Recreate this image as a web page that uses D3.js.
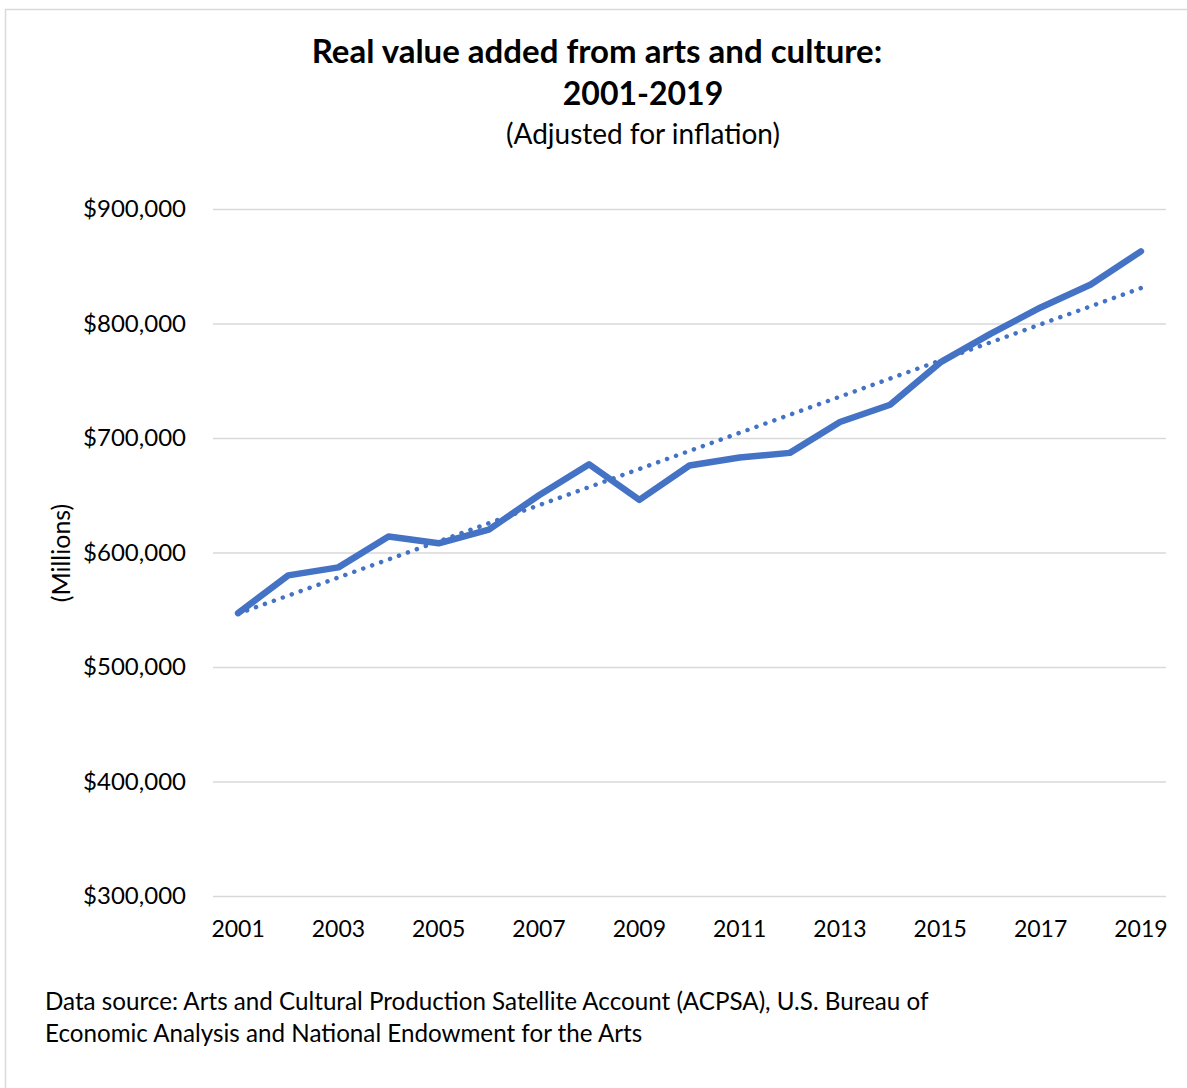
<!DOCTYPE html>
<html>
<head>
<meta charset="utf-8">
<script src="https://cdn.jsdelivr.net/npm/d3@7"></script>
<style>
  body { margin: 0; background: #fff; }
  text { font-family: Lato, "Open Sans", sans-serif; fill: #000; }
</style>
</head>
<body>
<script>
// real value added, millions of dollars
var years = ["2001", "2002", "2003", "2004", "2005", "2006", "2007", "2008", "2009", "2010",
             "2011", "2012", "2013", "2014", "2015", "2016", "2017", "2018", "2019"];
var values = [547000, 580000, 587000, 614000, 608000, 620000, 650000, 677000, 646000, 676000,
              683000, 687000, 714000, 729000, 766000, 791000, 814000, 834000, 863000];
var yTicks = [300000, 400000, 500000, 600000, 700000, 800000, 900000];
var xTickLabels = ["2001", "2003", "2005", "2007", "2009", "2011", "2013", "2015", "2017", "2019"];

var width = 1187, height = 1088;
var plot = { left: 213, right: 1166, top: 209, bottom: 896 };
var blue = "#4472c4";

var svg = d3.select("body").append("svg")
  .attr("width", width)
  .attr("height", height);

// chart frame
svg.append("rect")
  .attr("x", 5.5).attr("y", 9.5)
  .attr("width", width + 20).attr("height", height + 20)
  .attr("fill", "#fff")
  .attr("stroke", "#d9d9d9")
  .attr("stroke-width", 1.5);

var xScale = d3.scaleBand()
  .domain(years)
  .range([plot.left, plot.right]);

var yScale = d3.scaleLinear()
  .domain([300000, 900000])
  .range([plot.bottom, plot.top]);

var xc = function(d) { return xScale(d) + xScale.bandwidth() / 2; };
var money = function(d) { return "$" + d3.format(",")(d); };

// gridlines + y labels
var yAxis = d3.axisLeft(yScale)
  .tickValues(yTicks)
  .tickFormat(money)
  .tickSize(-(plot.right - plot.left))
  .tickPadding(27);
var yNodes = svg.append("g")
  .attr("transform", "translate(" + plot.left + ",0)")
  .call(yAxis);
yNodes.select(".domain").remove();
yNodes.selectAll(".tick line").attr("stroke", "#d9d9d9").attr("stroke-width", 1.5);
yNodes.selectAll(".tick text")
  .attr("font-size", 24)
  .attr("font-family", "Lato, sans-serif")
  .attr("fill", "#000");

// x labels
var xAxis = d3.axisBottom(xScale)
  .tickValues(xTickLabels)
  .tickSize(0)
  .tickPadding(25);
var xNodes = svg.append("g")
  .attr("transform", "translate(0," + plot.bottom + ")")
  .call(xAxis);
xNodes.select(".domain").remove();
xNodes.selectAll(".tick text")
  .attr("font-size", 23)
  .attr("font-family", "Lato, sans-serif")
  .attr("fill", "#000");

// linear trendline (least squares on the series)
var xs = years.map(function(d, i) { return i; });
var mx = d3.mean(xs), my = d3.mean(values);
var slope = d3.sum(xs, function(x, i) { return (x - mx) * (values[i] - my); }) /
            d3.sum(xs, function(x) { return (x - mx) * (x - mx); });
var icpt = my - slope * mx;
var ends = [0, years.length - 1];

svg.append("path")
  .datum(ends)
  .attr("fill", "none")
  .attr("stroke", blue)
  .attr("stroke-width", 4.5)
  .attr("stroke-linecap", "round")
  .attr("stroke-dasharray", "0.1,9.4")
  .attr("d", d3.line()
    .x(function(i) { return xc(years[i]); })
    .y(function(i) { return yScale(icpt + slope * i); }));

// series line
svg.append("path")
  .datum(values)
  .attr("fill", "none")
  .attr("stroke", blue)
  .attr("stroke-width", 6.5)
  .attr("stroke-linejoin", "round")
  .attr("stroke-linecap", "round")
  .attr("d", d3.line()
    .x(function(d, i) { return xc(years[i]); })
    .y(function(d) { return yScale(d); }));

// titles
svg.append("text")
  .attr("x", 597).attr("y", 63)
  .attr("text-anchor", "middle")
  .attr("font-size", 33).attr("font-weight", "bold")
  .text("Real value added from arts and culture:");
svg.append("text")
  .attr("x", 643).attr("y", 105)
  .attr("text-anchor", "middle")
  .attr("font-size", 32).attr("font-weight", "bold")
  .text("2001-2019");
svg.append("text")
  .attr("x", 643).attr("y", 144)
  .attr("text-anchor", "middle")
  .attr("font-size", 28)
  .text("(Adjusted for inflation)");

// y axis title
svg.append("text")
  .attr("transform", "translate(70,553) rotate(-90)")
  .attr("text-anchor", "middle")
  .attr("font-size", 25)
  .text("(Millions)");

// source note
svg.append("text")
  .attr("x", 45).attr("y", 1010)
  .attr("font-size", 24.2)
  .text("Data source: Arts and Cultural Production Satellite Account (ACPSA), U.S. Bureau of");
svg.append("text")
  .attr("x", 45).attr("y", 1042)
  .attr("font-size", 24.2)
  .text("Economic Analysis and National Endowment for the Arts");
</script>
</body>
</html>
